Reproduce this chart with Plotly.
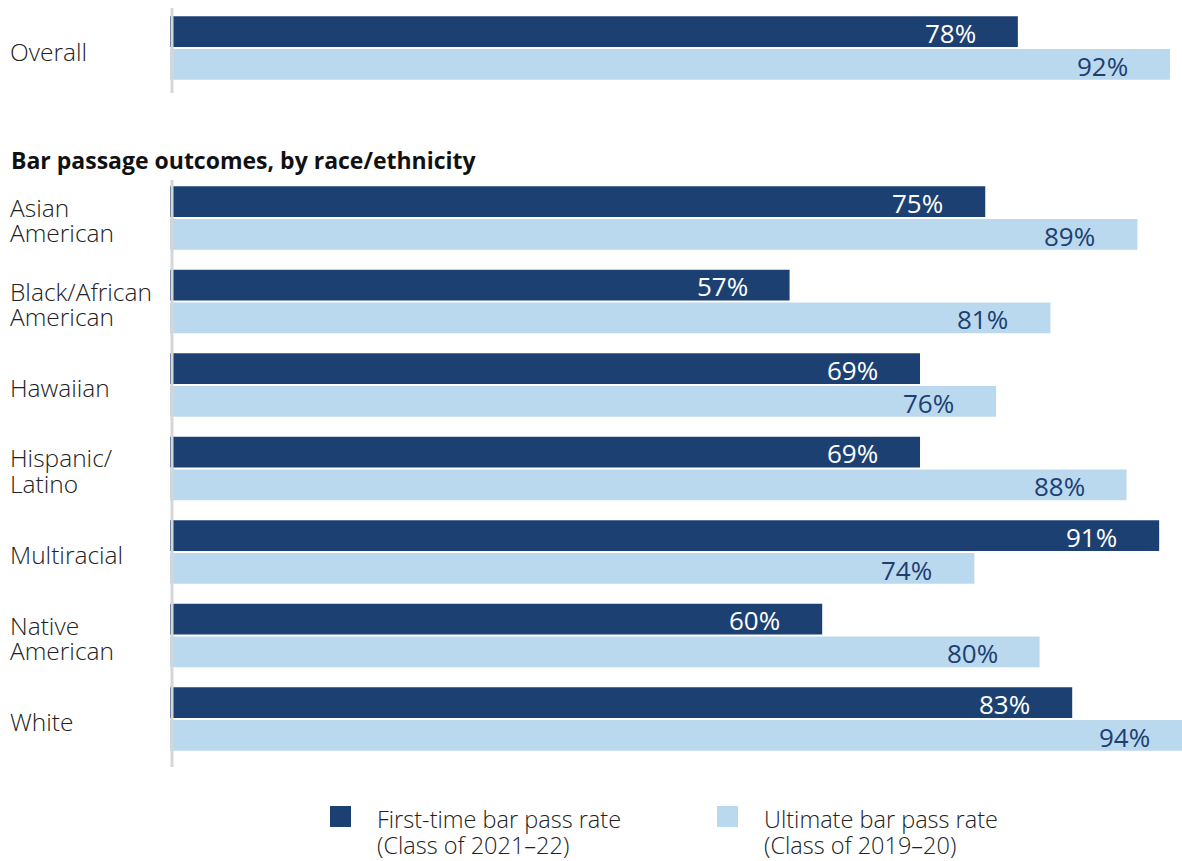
import plotly.graph_objects as go

# ---- data ----
overall_label = ["Overall"]
overall_first = [78]
overall_ultimate = [92]

groups = ["Asian American", "Black/African American", "Hawaiian", "Hispanic/Latino",
          "Multiracial", "Native American", "White"]
group_lines = [["Asian", "American"], ["Black/African", "American"], ["Hawaiian"],
               ["Hispanic/", "Latino"], ["Multiracial"], ["Native", "American"], ["White"]]
first_time = [75, 57, 69, 69, 91, 60, 83]
ultimate = [89, 81, 76, 88, 74, 80, 94]

series_lines = [["First-time bar pass rate", "(Class of 2021\u201322)"],
                ["Ultimate bar pass rate", "(Class of 2019\u201320)"]]

# ---- style ----
W, H = 1182, 861
DARK = "#1d4073"
LIGHT = "#bbd9ee"
TEXT = "#222222"
AXIS = "#d6d6d6"
FONT = "Open Sans"

PX_PER_PCT = 10.87
X0_PX = 170
XMAX = (W - X0_PX) / PX_PER_PCT


def py(p):
    """pixel row (from top) -> paper y"""
    return 1 - p / H


def px(p):
    return p / W


def value_px(v):
    """paper x of a value on the shared horizontal scale"""
    return px(X0_PX + v * PX_PER_PCT)


fig = go.Figure()

# top panel: overall
fig.add_trace(go.Bar(y=overall_label, x=overall_first, orientation="h",
                     marker=dict(color=DARK, line=dict(width=0)), offsetgroup="a",
                     xaxis="x2", yaxis="y2", showlegend=False, hoverinfo="skip"))
fig.add_trace(go.Bar(y=overall_label, x=overall_ultimate, orientation="h",
                     marker=dict(color=LIGHT, line=dict(width=0)), offsetgroup="b",
                     xaxis="x2", yaxis="y2", showlegend=False, hoverinfo="skip"))
# bottom panel: race/ethnicity
fig.add_trace(go.Bar(y=groups, x=first_time, orientation="h",
                     marker=dict(color=DARK, line=dict(width=0)), offsetgroup="a",
                     name=" ".join(series_lines[0]), showlegend=False, hoverinfo="skip"))
fig.add_trace(go.Bar(y=groups, x=ultimate, orientation="h",
                     marker=dict(color=LIGHT, line=dict(width=0)), offsetgroup="b",
                     name=" ".join(series_lines[1]), showlegend=False, hoverinfo="skip"))

BAND = 83.5
top_band = (6.25, 6.25 + BAND)
bot_band = (176.25, 176.25 + BAND * len(groups))

xaxis_common = dict(range=[0, XMAX], showgrid=False, zeroline=False, showticklabels=False,
                    showline=False, ticks="", fixedrange=True)
yaxis_common = dict(showgrid=False, zeroline=False, showticklabels=False, showline=False,
                    ticks="", autorange="reversed", type="category", fixedrange=True)

fig.update_layout(
    width=W, height=H,
    margin=dict(l=0, r=0, t=0, b=0),
    paper_bgcolor="white", plot_bgcolor="white",
    barmode="group", bargap=18 / BAND, bargroupgap=2 / 33,
    xaxis=dict(domain=[px(X0_PX), 1], anchor="y", **xaxis_common),
    yaxis=dict(domain=[py(bot_band[1]), py(bot_band[0])], anchor="x", **yaxis_common),
    xaxis2=dict(domain=[px(X0_PX), 1], anchor="y2", **xaxis_common),
    yaxis2=dict(domain=[py(top_band[1]), py(top_band[0])], anchor="x2", **yaxis_common),
    font=dict(family=FONT, color=TEXT),
)

annotations = []
OFF = 16.5
LSHIFT = -40
VAL_FONT = 26


def value_labels(cats, a_vals, b_vals, yref):
    for c, a, b in zip(cats, a_vals, b_vals):
        annotations.append(dict(x=value_px(a), y=c, xref="paper", yref=yref, text=f"{a}%",
                                showarrow=False, xanchor="right", yanchor="middle",
                                xshift=LSHIFT, yshift=OFF - 1,
                                font=dict(size=VAL_FONT, color="white", family=FONT, weight=500)))
        annotations.append(dict(x=value_px(b), y=c, xref="paper", yref=yref, text=f"{b}%",
                                showarrow=False, xanchor="right", yanchor="middle",
                                xshift=LSHIFT, yshift=-OFF - 1,
                                font=dict(size=VAL_FONT, color=DARK, family=FONT, weight=500)))


value_labels(overall_label, overall_first, overall_ultimate, "y2")
value_labels(groups, first_time, ultimate, "y")

# category labels on the left
CAT_FONT = dict(size=24.5, color=TEXT, family=FONT, weight=300)
LINE_H = 25


def cat_label(lines, center_px):
    n = len(lines)
    for i, ln in enumerate(lines):
        ypix = center_px + (i - (n - 1) / 2) * LINE_H
        annotations.append(dict(x=px(8), y=py(ypix), xref="paper", yref="paper", text=ln,
                                showarrow=False, xanchor="left", yanchor="middle",
                                font=CAT_FONT))


cat_label(["Overall"], 52)
for i, lines in enumerate(group_lines):
    cat_label(lines, bot_band[0] + BAND * (i + 0.5) + 2)

# section heading
annotations.append(dict(x=px(9), y=py(160), xref="paper", yref="paper",
                        text="<b>Bar passage outcomes, by race/ethnicity</b>",
                        showarrow=False, xanchor="left", yanchor="middle",
                        font=dict(size=23, color="#111111", family=FONT)))

# legend
legend_items = [(330, DARK, 375, series_lines[0]), (717, LIGHT, 762, series_lines[1])]
shapes = []
for sx, col, tx, lines in legend_items:
    shapes.append(dict(type="rect", xref="paper", yref="paper", x0=px(sx), x1=px(sx + 21),
                       y0=py(827), y1=py(806), fillcolor=col, line=dict(width=0)))
    for j, ln in enumerate(lines):
        annotations.append(dict(x=px(tx), y=py(819 + 26 * j), xref="paper", yref="paper",
                                text=ln, showarrow=False, xanchor="left", yanchor="middle",
                                font=dict(size=23.5, color=TEXT, family=FONT, weight=300)))

# vertical axis lines
for y0, y1 in [(8, 93), (180, 767)]:
    shapes.append(dict(type="line", xref="paper", yref="paper", x0=px(172), x1=px(172),
                       y0=py(y0), y1=py(y1), line=dict(color=AXIS, width=3), layer="above"))

fig.update_layout(annotations=annotations, shapes=shapes)
fig.write_html("out.html")
